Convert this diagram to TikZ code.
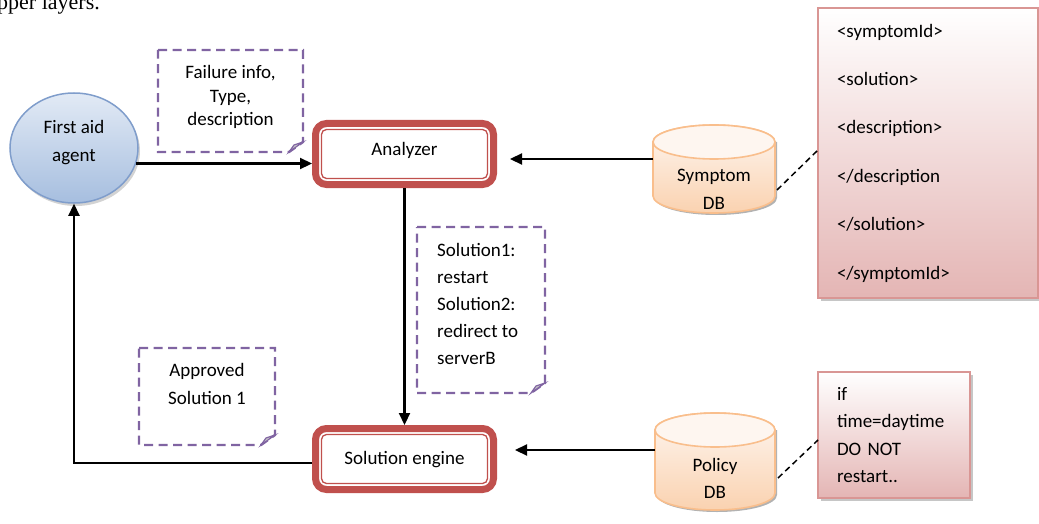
\documentclass[tikz,border=0pt]{standalone}
\usepackage{fontspec}
\setmainfont{Carlito}
\newfontfamily\serifbody{Liberation Serif}
\usetikzlibrary{arrows.meta,shadows,shapes.geometric}
\definecolor{boxred}{HTML}{C0504D}
\definecolor{notepurple}{HTML}{8064A2}
\definecolor{agentborder}{HTML}{7F9DCB}
\definecolor{agenttop}{HTML}{E2EAF5}
\definecolor{agentbot}{HTML}{A6BEDF}
\definecolor{dbborder}{HTML}{F9BE8C}
\definecolor{dbtop}{HTML}{FEF6F0}
\definecolor{dbbot}{HTML}{FAD2B0}
\definecolor{pinkborder}{HTML}{D99694}
\definecolor{pinkbot}{HTML}{E4B5B4}
\definecolor{foldgray}{HTML}{C8C8C8}
\begin{document}
\begin{tikzpicture}[x=1pt,y=-1pt,
  font=\fontsize{19}{23.5}\selectfont,
  arr/.style={line width=2.2pt,-{Triangle[length=12pt,width=11pt]}},
  procbox/.style={draw=boxred,line width=7pt,rounded corners=11pt,
    minimum width=178pt,minimum height=61pt,outer sep=3.5pt,fill=white,inner sep=0pt},
  innerline/.style={draw=boxred,line width=1.3pt,rounded corners=5pt},
  notebox/.style={inner sep=0pt,outer sep=0pt},
  notedash/.style={draw=notepurple,line width=2.4pt,dash pattern=on 9pt off 5.5pt},
  foldtri/.style={fill=foldgray,draw=notepurple,line width=1.2pt},
  lbl/.style={inner sep=0pt,align=center},
  lbll/.style={inner sep=0pt,align=left},
  agentshape/.style={ellipse,draw=agentborder,line width=1.5pt,top color=agenttop,bottom color=agentbot,
    minimum width=128pt,minimum height=110pt,inner sep=0pt,
    drop shadow={shadow xshift=2pt,shadow yshift=-3pt,opacity=0.35}},
  dbbody/.style={draw=dbborder,line width=1.6pt,top color=dbtop,bottom color=dbbot},
  dbnode/.style={inner sep=0pt,outer sep=0pt},
  xmlbox/.style={draw=pinkborder,line width=1.6pt,top color=white,bottom color=pinkbot,
    align=left,inner xsep=19pt,inner ysep=0pt,outer sep=0pt,
    drop shadow={shadow xshift=3pt,shadow yshift=-3pt,opacity=0.45}},
  dashconn/.style={line width=1.5pt,dash pattern=on 6pt off 4pt}
]
\path[use as bounding box] (0,0) rectangle (1039,524);
\clip (0,0) rectangle (1039,524);

% cropped paragraph text
\node[font=\serifbody\fontsize{22}{26}\selectfont,anchor=base east,inner sep=0pt] (toptext) at (100,10) {upper layers.};

% first aid agent
\node[agentshape] (agent) at (74,148) {};
\node[lbl,font=\fontsize{19}{28}\selectfont] (agentlbl) at (74,143) {First aid\\agent};

% analyzer
\node[procbox] (an) at (404.5,154) {};
\draw[innerline] ([shift={(9.5pt,-9.5pt)}]an.north west) rectangle ([shift={(-9.5pt,9.5pt)}]an.south east);
\node[lbl] (anlbl) at (404.5,150) {Analyzer};

% solution engine
\node[procbox] (se) at (404.5,459) {};
\draw[innerline] ([shift={(9.5pt,-9.5pt)}]se.north west) rectangle ([shift={(-9.5pt,9.5pt)}]se.south east);
\node[lbl] (selbl) at (404.5,460) {Solution engine};

% notes
\node[notebox,minimum width=145pt,minimum height=102pt] (fnote) at (230.5,101) {};
\draw[notedash] (fnote.north west) -- (fnote.north east) -- ([yshift=10pt]fnote.south east)
  -- ([xshift=-14pt]fnote.south east) -- (fnote.south west) -- cycle;
\draw[foldtri] ([yshift=10pt]fnote.south east) -- ([xshift=-14pt]fnote.south east) -- ([shift={(-9pt,7pt)}]fnote.south east) -- cycle;
\node[lbl] (fnotelbl) at (230.5,97) {Failure info,\\Type,\\description};

\node[notebox,minimum width=128pt,minimum height=166pt] (snote) at (481,310) {};
\draw[notedash] (snote.north west) -- (snote.north east) -- ([yshift=10pt]snote.south east)
  -- ([xshift=-14pt]snote.south east) -- (snote.south west) -- cycle;
\draw[foldtri] ([yshift=10pt]snote.south east) -- ([xshift=-14pt]snote.south east) -- ([shift={(-9pt,7pt)}]snote.south east) -- cycle;
\node[lbll,anchor=west,font=\fontsize{19}{27}\selectfont] (snotelbl) at (437,304) {Solution1:\\restart\\Solution2:\\redirect to\\serverB};

\node[notebox,minimum width=136pt,minimum height=97pt] (anote) at (207,396.5) {};
\draw[notedash] (anote.north west) -- (anote.north east) -- ([yshift=10pt]anote.south east)
  -- ([xshift=-14pt]anote.south east) -- (anote.south west) -- cycle;
\draw[foldtri] ([yshift=10pt]anote.south east) -- ([xshift=-14pt]anote.south east) -- ([shift={(-9pt,7pt)}]anote.south east) -- cycle;
\node[lbl,font=\fontsize{19}{28}\selectfont] (anotelbl) at (207,384) {Approved\\Solution 1};

% Symptom DB cylinder
\fill[black,opacity=0.3] (655,142) -- (655,198) arc[start angle=180,end angle=0,x radius=61,y radius=17] -- (777,142) -- cycle;
\path[dbbody] (653,142) -- (653,196) arc[start angle=180,end angle=0,x radius=61,y radius=17]
  -- (775,142) arc[start angle=0,end angle=-180,x radius=61,y radius=17] -- cycle;
\draw[draw=dbborder,line width=1.6pt,fill=dbtop] (714,142) ellipse[x radius=61,y radius=17];
\node[dbnode,minimum width=122pt,minimum height=71pt] (symdb) at (714,178) {};
\node[lbl,font=\fontsize{19}{28}\selectfont] (symdblbl) at (714,189) {Symptom\\DB};

% Policy DB cylinder
\fill[black,opacity=0.3] (657,430) -- (657,495) arc[start angle=180,end angle=0,x radius=60,y radius=17] -- (777,430) -- cycle;
\path[dbbody] (655,430) -- (655,493) arc[start angle=180,end angle=0,x radius=60,y radius=17]
  -- (775,430) arc[start angle=0,end angle=-180,x radius=60,y radius=17] -- cycle;
\draw[draw=dbborder,line width=1.6pt,fill=dbtop] (715,430) ellipse[x radius=60,y radius=17];
\node[dbnode,minimum width=120pt,minimum height=63pt] (poldb) at (715,461.5) {};
\node[lbl,font=\fontsize{19}{27}\selectfont] (poldblbl) at (715,478) {Policy\\DB};

% XML box
\node[xmlbox,minimum width=220pt,minimum height=290pt,text width=182pt,font=\fontsize{19}{48.4}\selectfont] (xml) at (928,153)
 {<symptomId>\\<solution>\\<description>\\</description\\</solution>\\</symptomId>};

% Policy rule box
\node[xmlbox,minimum width=152pt,minimum height=126pt,text width=114pt,font=\fontsize{19}{27.3}\selectfont] (pol) at (894,435)
 {if\\time=daytime\\DO NOT\\restart..};

% connectors
\draw[arr] (agent.-14) -- (agent.-14 -| an.west);
\draw[arr] (an.south) -- (se.north);
\draw[arr,shorten >=13pt] ([yshift=19pt]symdb.west) -- ([yshift=19pt]symdb.west -| an.east);
\draw[arr,shorten >=18pt] ([yshift=11.5pt]poldb.west) -- ([yshift=11.5pt]poldb.west -| se.east);
\draw[arr] ([yshift=-4pt]se.west) -- ([yshift=-4pt]se.west -| agent.south) -- (agent.south);
\draw[dashconn] ([xshift=2pt,yshift=-12pt]symdb.east) -- ([yshift=3pt]xml.west);
\draw[dashconn] ([xshift=3pt,yshift=-16.5pt]poldb.east) -- ([yshift=-5pt]pol.west);
\end{tikzpicture}
\end{document}
